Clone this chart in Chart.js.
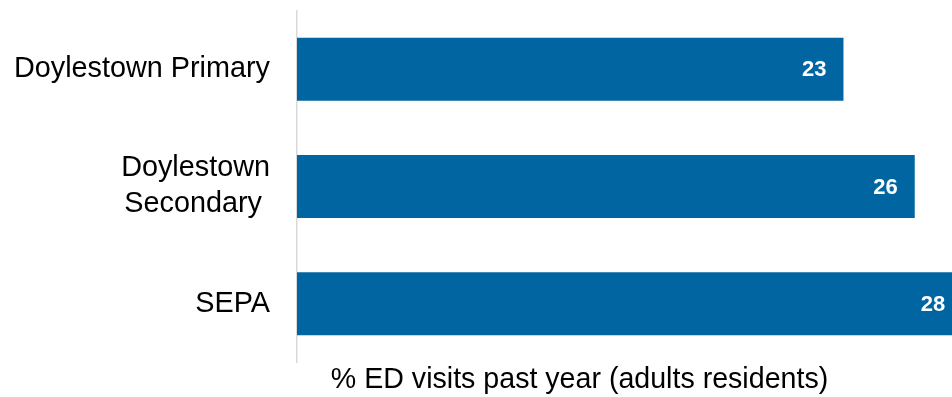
<!DOCTYPE html>
<html>
<head>
<meta charset="utf-8">
<script src="https://cdn.jsdelivr.net/npm/chart.js@4"></script>
<style>
  html, body { margin: 0; padding: 0; background: #fff; overflow: hidden; }
  #wrap { width: 952px; height: 397px; position: relative; }
</style>
</head>
<body>
<div id="wrap"><canvas id="edChart"></canvas></div>
<script>
// categories and values
const categories = [
  'Doylestown Primary',
  ['Doylestown', 'Secondary '],
  'SEPA'
];
const edVisits = [23, 26, 28];
const axisTitle = '% ED visits past year (adults residents)';

const barColor = '#0065a1';

// value written inside the right end of each bar
const barValueLabels = {
  id: 'barValueLabels',
  afterDatasetsDraw(chart) {
    const ctx = chart.ctx;
    const meta = chart.getDatasetMeta(0);
    ctx.save();
    ctx.fillStyle = '#ffffff';
    ctx.font = 'bold 22px "Liberation Sans", Arial, sans-serif';
    ctx.textAlign = 'right';
    ctx.textBaseline = 'middle';
    meta.data.forEach((bar, i) => {
      ctx.fillText(String(chart.data.datasets[0].data[i]), bar.x - 17, bar.y + 1);
    });
    ctx.restore();
  }
};

new Chart(document.getElementById('edChart'), {
  type: 'bar',
  data: {
    labels: categories,
    datasets: [{
      data: edVisits,
      backgroundColor: barColor,
      borderWidth: 0,
      barPercentage: 0.537,
      categoryPercentage: 1,
      clip: false
    }]
  },
  options: {
    indexAxis: 'y',
    responsive: true,
    maintainAspectRatio: false,
    animation: false,
    layout: { padding: { top: 10.5, right: 90, bottom: 0, left: 0 } },
    plugins: {
      legend: { display: false },
      tooltip: { enabled: false }
    },
    scales: {
      x: {
        min: 0,
        max: 23.78,
        grid: { display: false, drawTicks: false },
        border: { display: false },
        ticks: { display: false },
        title: {
          display: true,
          text: axisTitle,
          color: '#000',
          font: { family: '"Liberation Sans", Arial, sans-serif', size: 28.6, lineHeight: 1.2 },
          padding: { top: 0, bottom: 0 }
        },
        afterFit(scale) { scale.height = 34.5; scale.paddingLeft = 0; scale.paddingRight = 0; }
      },
      y: {
        grid: { display: false, drawTicks: false },
        border: { display: true, color: '#d9d9d9', width: 1.5 },
        ticks: {
          color: '#000',
          padding: 27,
          font: { family: '"Liberation Sans", Arial, sans-serif', size: 28.8, lineHeight: 1.25 }
        },
        afterFit(scale) {
          scale.width = 297;
          scale.paddingTop = 0;
          scale.paddingBottom = 0;
        }
      }
    }
  },
  plugins: [barValueLabels]
});
</script>
</body>
</html>
